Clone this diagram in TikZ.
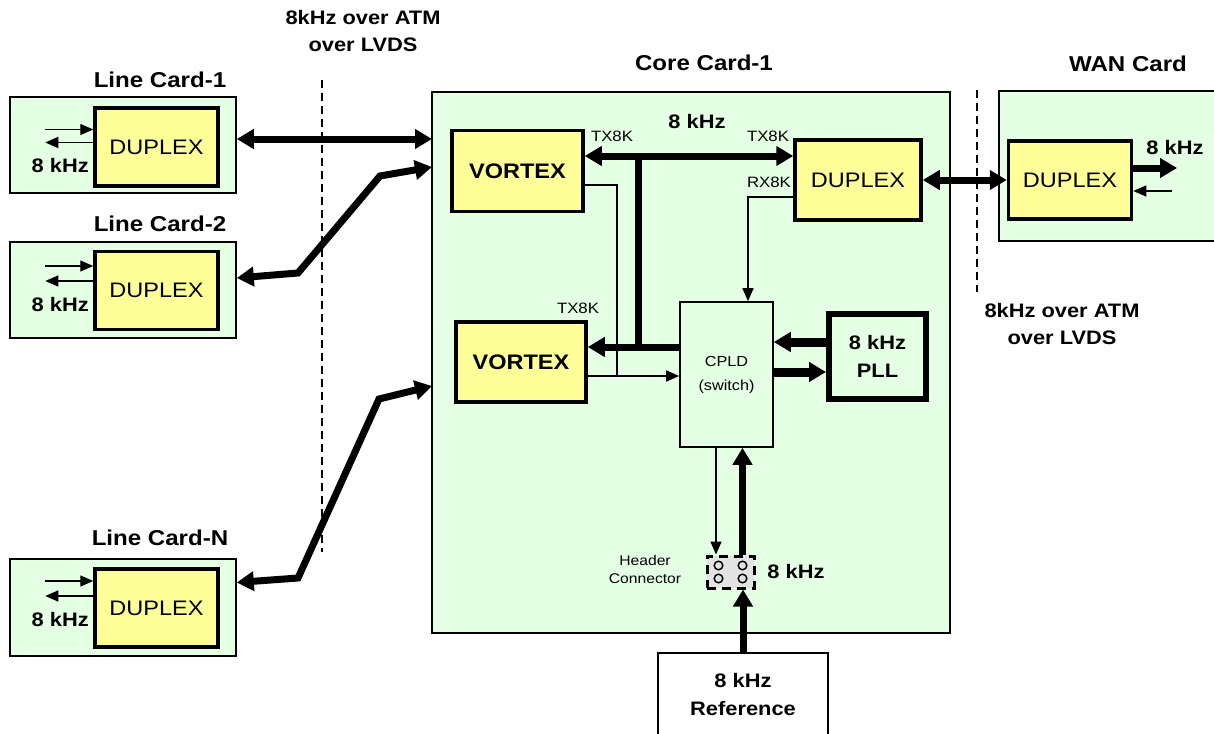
\documentclass[tikz,border=0pt]{standalone}
\usepackage{fontspec}
\setmainfont{Liberation Sans}[FakeStretch=1.12]
\usepackage{tikz}
\usetikzlibrary{arrows.meta, positioning, backgrounds}
\definecolor{cardgreen}{HTML}{E5FFE5}
\definecolor{chipyellow}{HTML}{FFFF99}
\definecolor{pingray}{HTML}{E3E3E3}

\begin{document}
\begin{tikzpicture}[x=1pt, y=-1pt,
  card/.style={rectangle, draw, fill=cardgreen, line width=1.6pt, inner sep=0pt},
  chip/.style={rectangle, draw, fill=chipyellow, line width=3.5pt, inner sep=0pt,
               minimum width=123pt, minimum height=78pt, font=\fontsize{21}{24}\selectfont},
  ttl/.style={inner sep=0pt, align=center, font=\fontsize{19.5}{27}\selectfont\bfseries},
  head/.style={inner sep=0pt, font=\fontsize{21.5}{24}\selectfont\bfseries},
  sml/.style={inner sep=0pt, align=center, font=\fontsize{14}{18}\selectfont},
  busln/.style={line width=7pt, >={Triangle[length=17pt, width=19pt]}},
  sigln/.style={line width=1.3pt, >={Triangle[length=13pt, width=11pt]}},
  bnd/.style={line width=1.3pt, dash pattern=on 8pt off 5pt},
]
  \useasboundingbox (0,0) rectangle (1214,733);

  %% Line cards
  \node[card, minimum width=226pt, minimum height=96pt] (lc1) at (123,145) {};
  \node[chip] (lc1dup) at (156.5,147) {DUPLEX};
  \node[head] (lc1lbl) at (160,80) {Line Card-1};
  \node[ttl] (lc1clk) at ([xshift=-33pt,yshift=-18.5pt]lc1dup.west) {8 kHz};
  \draw[sigln,->] ([xshift=-48pt,yshift=17.5pt]lc1dup.west) -- ([yshift=17.5pt]lc1dup.west);
  \draw[sigln,->] ([yshift=4.5pt]lc1dup.west) -- ([xshift=-48pt,yshift=4.5pt]lc1dup.west);

  \node[card, minimum width=226pt, minimum height=96pt] (lc2) at (123,290) {};
  \node[chip] (lc2dup) at (156.5,290.5) {DUPLEX};
  \node[head] (lc2lbl) at (160,224) {Line Card-2};
  \node[ttl] (lc2clk) at ([xshift=-33pt,yshift=-14.5pt]lc2dup.west) {8 kHz};
  \draw[sigln,->] ([xshift=-48pt,yshift=24.5pt]lc2dup.west) -- ([yshift=24.5pt]lc2dup.west);
  \draw[sigln,->] ([yshift=9.5pt]lc2dup.west) -- ([xshift=-48pt,yshift=9.5pt]lc2dup.west);

  \node[card, minimum width=226pt, minimum height=97pt] (lcn) at (123,607.5) {};
  \node[chip] (lcndup) at (156.5,608) {DUPLEX};
  \node[head] (lcnlbl) at (160,538) {Line Card-N};
  \node[ttl] (lcnclk) at ([xshift=-33pt,yshift=-12pt]lcndup.west) {8 kHz};
  \draw[sigln,->] ([xshift=-48pt,yshift=27pt]lcndup.west) -- ([yshift=27pt]lcndup.west);
  \draw[sigln,->] ([yshift=12pt]lcndup.west) -- ([xshift=-48pt,yshift=12pt]lcndup.west);

  %% Core card
  \node[card, minimum width=518pt, minimum height=541pt] (core) at (691,362.5) {};
  \node[head] (corelbl) at (704,63) {Core Card-1};
  \node[chip, minimum width=131pt, minimum height=81pt, font=\fontsize{21}{24}\selectfont\bfseries] (vort1) at (517.5,171) {VORTEX};
  \node[chip, minimum width=130pt, minimum height=80pt, font=\fontsize{21}{24}\selectfont\bfseries] (vort2) at (521,362) {VORTEX};
  \node[chip, minimum width=126pt, minimum height=80pt] (cdup) at (858,180) {DUPLEX};
  \node[card, minimum width=93pt, minimum height=145pt, font=\fontsize{14.5}{24}\selectfont, align=center]
       (cpld) at (726.5,374.5) {CPLD\\(switch)};
  \node[card, line width=6pt, minimum width=97pt, minimum height=85pt, font=\fontsize{19.5}{28}\selectfont\bfseries, align=center]
       (pll) at (877.5,356.5) {8 kHz\\PLL};
  \node[rectangle, draw, fill=pingray, line width=3pt, dash pattern=on 9pt off 6pt, minimum width=47pt, minimum height=32pt]
       (hdr) at (730.5,572) {};
  \foreach \dx in {-12,12} \foreach \dy in {-6.5,6.5}
    \draw[line width=1.4pt] ([shift={(\dx,\dy)}]hdr.center) circle (4.3);
  \node[sml] (hdrlbl) at (645,569) {Header\\Connector};
  \node[ttl] (hdrclk) at (796,572) {8 kHz};

  \node[ttl] (buslbl) at (697,122) {8 kHz};
  \node[sml, font=\fontsize{15}{18}\selectfont] (tx1) at (612,136) {TX8K};
  \node[sml, font=\fontsize{15}{18}\selectfont] (tx2) at (768,136) {TX8K};
  \node[sml, font=\fontsize{15}{18}\selectfont] (rx) at (769,182) {RX8K};
  \node[sml, font=\fontsize{15}{18}\selectfont] (tx3) at (578,308) {TX8K};

  %% WAN card
  \node[card, minimum width=220pt, minimum height=150pt, anchor=north west] (wan) at (998,90) {};
  \node[head] (wanlbl) at (1128,64) {WAN Card};
  \node[chip] (wdup) at (1070,180) {DUPLEX};
  \coordinate (wout) at (1177,168);
  \coordinate (win) at (1172,191);
  \node[ttl] (wanclk) at (1175,148) {8 kHz};
  \draw[busln,->] (wdup.east |- wout) -- (wout);
  \draw[sigln,->] (win) -- (wdup.east |- win);

  %% Reference
  \node[rectangle, draw, fill=white, line width=2.5pt, minimum width=170pt, minimum height=84pt,
        font=\fontsize{19.5}{28}\selectfont\bfseries, align=center] (ref) at (743,695) {8 kHz\\Reference};

  %% Boundaries
  \draw[bnd] (322,80) -- (322,552);
  \draw[bnd] (977,90) -- (977,292);
  \node[ttl] (atm1) at (363,31) {8kHz over ATM\\over LVDS};
  \node[ttl] (atm2) at (1062,324) {8kHz over ATM\\over LVDS};

  %% Links to line cards
  \coordinate (c1in) at (432,139);
  \coordinate (c2in) at (432,167);
  \coordinate (cnin) at (432,386);
  \draw[busln,<->] (lc1.east |- c1in) -- (c1in);
  \draw[busln,<->,line join=miter] ([yshift=12pt]lc2.east) -- (298,273) -- (380,176) -- (c2in);
  \draw[busln,<->,line join=miter] ([yshift=25pt]lcn.east) -- (298,578) -- (379,399) -- (cnin);

  %% Core wiring
  \coordinate (tap) at (638,156);
  \draw[busln,<->] ([yshift=15pt]vort1.east) -- ([yshift=15pt]vort1.east -| cdup.west);
  \draw[busln] (tap) -- ([yshift=27.5pt]cpld.west -| tap);
  \draw[busln,->] ([yshift=27.5pt]cpld.west) -- ([yshift=27.5pt]cpld.west -| vort2.east);
  \coordinate (jn) at (617,376);
  \draw[sigln] ([yshift=-14pt]vort1.east) -| (jn);
  \draw[sigln,->] ([yshift=-14pt]vort2.east) -- ([yshift=-14pt]vort2.east -| cpld.west);
  \draw[sigln,->] ([yshift=-17pt]cdup.west) -| ([xshift=21.5pt]cpld.north);
  \draw[busln,line width=9pt,->] ([yshift=14.5pt]pll.west) -- ([yshift=14.5pt]pll.west -| cpld.east);
  \draw[busln,line width=9pt,->] ([yshift=-15.5pt]pll.west -| cpld.east) -- ([yshift=-15.5pt]pll.west);
  \draw[sigln,->] ([xshift=-10.5pt]cpld.south) -- ([xshift=-10.5pt]cpld.south |- hdr.north);
  \draw[busln,->] ([xshift=12pt]hdr.north) -- ([xshift=12pt]hdr.north |- cpld.south);
  \draw[busln,->] (ref.north) -- (ref.north |- hdr.south);
  \draw[busln,<->] (cdup.east) -- (wdup.west);

\end{tikzpicture}
\end{document}
